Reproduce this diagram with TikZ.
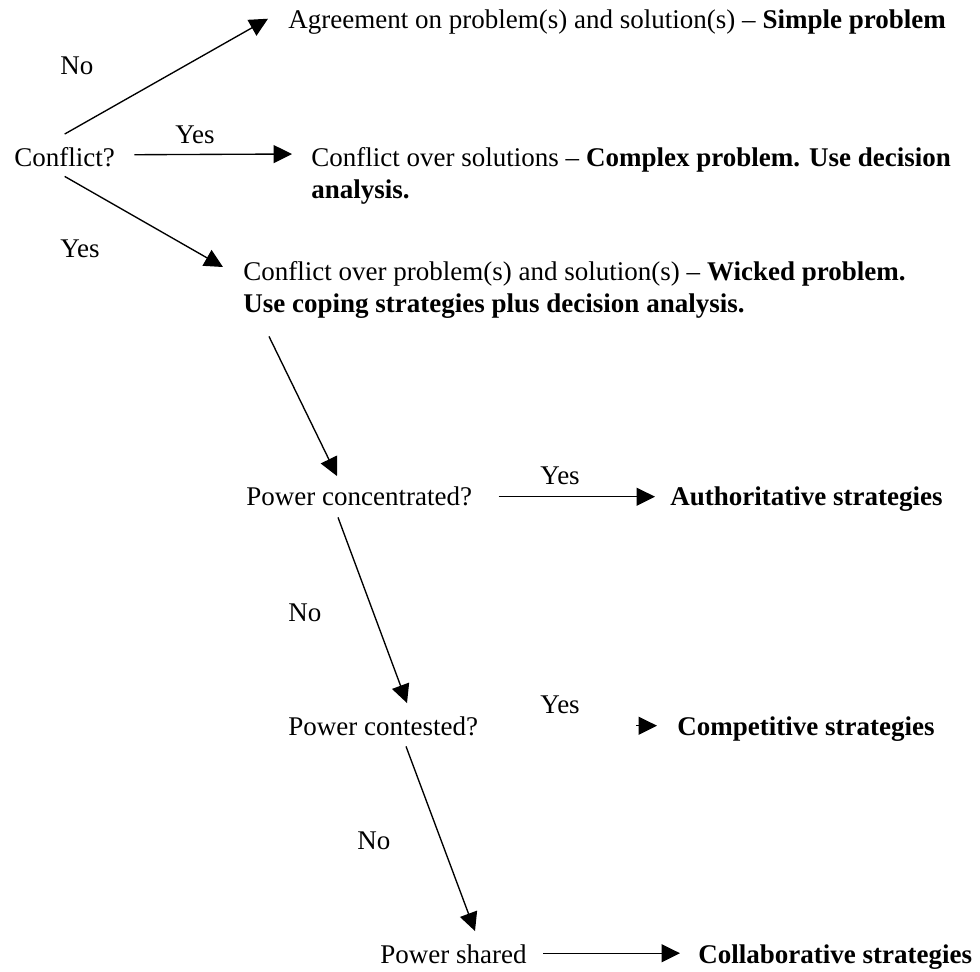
\documentclass[tikz,border=0pt]{standalone}
\usepackage{fontspec}
\setmainfont{Liberation Serif}
\usetikzlibrary{positioning, arrows.meta}
\definecolor{ink}{HTML}{000000}

\begin{document}
\begin{tikzpicture}[
  x=0.4444pt, y=-0.4444pt,
  font=\fontsize{12pt}{13.8pt}\selectfont,
  txt/.style={inner sep=0pt, anchor=base west, text height=0.69em,
              text depth=0.22em, text=ink},
  para/.style={inner sep=0pt, anchor=north west, align=left, text=ink},
  lbl/.style={inner sep=0pt, anchor=base west, text=ink},
  arr/.style={-{Triangle[length=8.2pt, width=8pt]}, line width=0.6pt, draw=ink}
]
\useasboundingbox (0,0) rectangle (980,971);

\node[txt] (agree) at (288,28) {Agreement on problem(s) and solution(s) – \textbf{Simple problem}};
\node[txt] (conflict) at (14,166) {Conflict?};
\node[para] (complex) at (311,147.5) {Conflict over solutions – \textbf{Complex problem. Use decision}\\\textbf{analysis.}};
\node[para] (wicked) at (243,261.5) {Conflict over problem(s) and solution(s) – \textbf{Wicked problem.}\\\textbf{Use coping strategies plus decision analysis.}};
\node[txt] (conc) at (246,505) {Power concentrated?};
\node[txt] (auth) at (670,505) {\textbf{Authoritative strategies}};
\node[txt] (cont) at (288,735) {Power contested?};
\node[txt] (comp) at (677,735) {\textbf{Competitive strategies}};
\node[txt] (shared) at (380,963) {Power shared};
\node[txt] (collab) at (698,963) {\textbf{Collaborative strategies}};

% yes / no labels
\node[lbl] (no1) at (60,74) {No};
\node[lbl] (yes1) at (175,143) {Yes};
\node[lbl] (yes2) at (60,257) {Yes};
\node[lbl] (yes3) at (540,484) {Yes};
\node[lbl] (no2) at (288,621) {No};
\node[lbl] (yes4) at (540,713) {Yes};
\node[lbl] (no3) at (357,849) {No};

\draw[arr] ([shift={(0,-16)}]conflict.north) -- ([shift={(-20,-4)}]agree.west);
\draw[arr] ([shift={(19,-6)}]conflict.east) -- ([shift={(-19,6.5)}]complex.north west);
\draw[arr] ([shift={(0,5)}]conflict.south) -- ([shift={(-20,5.5)}]wicked.north west);
\draw[arr] ([shift={(26,18)}]wicked.south west) -- ([shift={(91,-13)}]conc.north west);
\draw[arr] ([shift={(26,-3)}]conc.east) -- ([shift={(-15,-3)}]auth.west);
\draw[arr] ([shift={(92,7)}]conc.south west) -- ([shift={(119,-16)}]cont.north west);
\draw[arr, shorten <=70pt] ([shift={(0,-4)}]cont.east) -- ([shift={(-20,-4)}]comp.west);
\draw[arr] ([shift={(118,6)}]cont.south west) -- ([shift={(95,-16)}]shared.north west);
\draw[arr] ([shift={(16,-4.5)}]shared.east) -- ([shift={(-18,-4.5)}]collab.west);
\end{tikzpicture}
\end{document}
